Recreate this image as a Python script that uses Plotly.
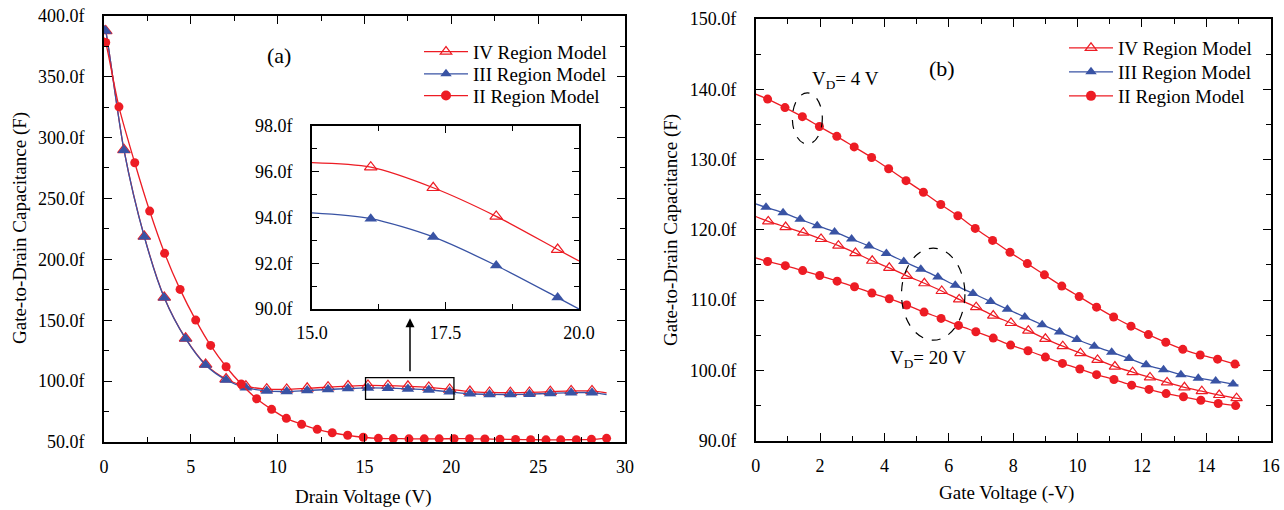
import plotly.graph_objects as go

RED = "#ED1C24"
BLUE = "#3953A4"
FONT = "Liberation Serif"

# ---------------- Panel (a): Drain voltage sweep ----------------
a_circ_x = [0.1, 0.86, 1.77, 2.63, 3.49, 4.38, 5.28, 6.14, 7.03, 7.9, 8.79, 9.65, 10.5, 11.38,
            12.28, 13.14, 14.03, 14.93, 15.8, 16.66, 17.56, 18.44, 19.3, 20.16, 21.05, 21.93,
            22.8, 23.7, 24.57, 25.45, 26.3, 27.2, 28.07, 28.94]
a_ii_y = [378, 325.2, 279.3, 239.6, 204.9, 175.3, 150.1, 129.3, 111.8, 97.6, 85.5, 76.8, 69.4,
          64.5, 60.4, 57.6, 55.5, 53.9, 53.0, 52.8, 52.6, 52.6, 52.6, 52.7, 52.7, 52.5, 52.3,
          52.1, 51.9, 51.8, 51.8, 51.9, 52.2, 53.0]
a_ii_start = (0.0, 382.0)

a_tri_x = [0.1, 1.15, 2.32, 3.47, 4.7, 5.85, 7.03, 8.17, 9.37, 10.52, 11.7, 12.9, 14.05, 15.2,
           16.35, 17.5, 18.7, 19.9, 21.07, 22.2, 23.4, 24.5, 25.7, 26.9, 28.1]
a_iii_y = [387.5, 289.6, 218.5, 168.4, 134.8, 113.2, 100.9, 94.6, 91.9, 91.5, 92.3, 93.1, 93.9,
           94.4, 94.2, 93.6, 92.7, 91.2, 89.6, 89.1, 89.0, 89.3, 89.9, 90.5, 90.5]
a_iii_ends = [(0.0, 392.0), (28.94, 89.0)]
a_iv_y = [387.5, 289.9, 218.8, 168.7, 135.1, 113.7, 101.7, 95.8, 93.4, 93.2, 94.1, 95.0, 95.9,
          96.5, 96.3, 95.7, 94.8, 93.2, 91.4, 90.7, 90.5, 90.7, 91.3, 91.9, 91.9]
a_iv_ends = [(0.0, 392.0), (28.94, 90.3)]

# Inset (zoom of 15-20 V)
in_x = [16.1, 17.27, 18.45, 19.6]
in_iv_y = [96.2, 95.3, 94.05, 92.6]
in_iv_ends = [(15.0, 96.4), (20.0, 92.1)]
in_iii_y = [93.95, 93.15, 91.9, 90.5]
in_iii_ends = [(15.0, 94.2), (20.0, 90.0)]

# ---------------- Panel (b): Gate voltage sweep ----------------
b_ii4_x = [0.37, 0.91, 1.45, 1.98, 2.52, 3.06, 3.6, 4.13, 4.67, 5.21, 5.75, 6.28, 6.82, 7.36,
           7.9, 8.44, 8.97, 9.51, 10.05, 10.59, 11.12, 11.66, 12.2, 12.74, 13.27, 13.81, 14.35, 14.89]
b_ii4_y = [138.6, 137.4, 136.1, 134.7, 133.3, 131.8, 130.3, 128.7, 127.0, 125.35, 123.6, 122.0,
           120.2, 118.5, 116.8, 115.2, 113.6, 112.0, 110.5, 109.0, 107.6, 106.3, 105.1, 104.0,
           103.0, 102.2, 101.6, 100.9]
b_ii4_ends = [(0.0, 139.3), (15.05, 100.7)]

b_iii_x = [0.32, 0.85, 1.38, 1.91, 2.45, 2.98, 3.52, 4.06, 4.6, 5.13, 5.66, 6.2, 6.75, 7.3,
           7.82, 8.36, 8.9, 9.44, 9.98, 10.52, 11.06, 11.6, 12.13, 12.67, 13.21, 13.75, 14.29, 14.83]
b_iii_y = [123.2, 122.45, 121.5, 120.6, 119.7, 118.7, 117.7, 116.65, 115.5, 114.4, 113.3, 112.1,
           110.95, 109.8, 108.7, 107.6, 106.5, 105.45, 104.4, 103.45, 102.6, 101.7, 100.8, 100.1,
           99.4, 98.9, 98.5, 98.05]
b_iii_ends = [(0.0, 123.7), (15.0, 97.9)]

b_iv_x = [0.39, 0.93, 1.48, 2.03, 2.57, 3.1, 3.62, 4.15, 4.7, 5.24, 5.78, 6.32, 6.85, 7.38,
          7.93, 8.47, 9.0, 9.54, 10.09, 10.62, 11.16, 11.71, 12.25, 12.78, 13.32, 13.86, 14.4, 14.94]
b_iv_y = [121.2, 120.4, 119.6, 118.7, 117.75, 116.7, 115.6, 114.6, 113.45, 112.4, 111.3, 110.1,
          109.0, 107.8, 106.75, 105.65, 104.5, 103.45, 102.45, 101.5, 100.55, 99.75, 99.0, 98.3,
          97.6, 97.05, 96.5, 96.05]
b_iv_ends = [(0.0, 121.9), (15.1, 95.9)]

b_ii20_x = [0.37, 0.92, 1.46, 1.99, 2.53, 3.07, 3.61, 4.15, 4.69, 5.23, 5.76, 6.3, 6.84, 7.38,
            7.92, 8.46, 9.0, 9.53, 10.07, 10.59, 11.13, 11.68, 12.22, 12.75, 13.29, 13.83, 14.37, 14.91]
b_ii20_y = [115.5, 114.9, 114.2, 113.5, 112.7, 111.9, 111.0, 110.2, 109.3, 108.3, 107.4, 106.4,
            105.5, 104.6, 103.6, 102.8, 101.9, 101.0, 100.2, 99.4, 98.7, 97.9, 97.3, 96.7, 96.25,
            95.75, 95.3, 95.0]
b_ii20_ends = [(0.0, 116.0), (15.05, 94.9)]

legend_names = ["IV Region Model", "III Region Model", "II Region Model"]

fig = go.Figure()

def with_ends(xs, ys, ends):
    lx, ly = list(xs), list(ys)
    if len(ends) >= 1:
        lx = [ends[0][0]] + lx
        ly = [ends[0][1]] + ly
    if len(ends) == 2:
        lx = lx + [ends[1][0]]
        ly = ly + [ends[1][1]]
    return lx, ly

def add_series(xs, ys, ends, color, symbol, xa, ya, msize=9):
    lx, ly = with_ends(xs, ys, ends)
    fig.add_trace(go.Scatter(x=lx, y=ly, mode="lines", xaxis=xa, yaxis=ya,
                             line=dict(color=color, width=1.3, shape="spline", smoothing=0.8),
                             showlegend=False, hoverinfo="skip"))
    open_sym = symbol.endswith("-open")
    fig.add_trace(go.Scatter(x=xs, y=ys, mode="markers", xaxis=xa, yaxis=ya,
                             marker=dict(color=color, symbol=symbol, size=msize,
                                         line=dict(color=color, width=1.2 if open_sym else 0)),
                             showlegend=False))

def add_legend(name, color, symbol, legend):
    open_sym = symbol.endswith("-open")
    fig.add_trace(go.Scatter(x=[None], y=[None], mode="lines+markers", name=name, legend=legend,
                             line=dict(color=color, width=1.3),
                             marker=dict(color=color, symbol=symbol, size=10,
                                         line=dict(color=color, width=1.2 if open_sym else 0))))

symbols = ["triangle-up-open", "triangle-up", "circle"]
colors = [RED, BLUE, RED]

# Panel (a)
add_series(a_tri_x, a_iv_y, a_iv_ends, RED, "triangle-up-open", "x", "y", 11)
add_series(a_tri_x, a_iii_y, a_iii_ends, BLUE, "triangle-up", "x", "y", 11)
add_series(a_circ_x, a_ii_y, [a_ii_start], RED, "circle", "x", "y", 9)

# Inset
add_series(in_x, in_iv_y, in_iv_ends, RED, "triangle-up-open", "x3", "y3", 11)
add_series(in_x, in_iii_y, in_iii_ends, BLUE, "triangle-up", "x3", "y3", 11)

# Panel (b)
add_series(b_ii4_x, b_ii4_y, b_ii4_ends, RED, "circle", "x2", "y2", 9)
add_series(b_iv_x, b_iv_y, b_iv_ends, RED, "triangle-up-open", "x2", "y2", 10)
add_series(b_iii_x, b_iii_y, b_iii_ends, BLUE, "triangle-up", "x2", "y2", 10)
add_series(b_ii20_x, b_ii20_y, b_ii20_ends, RED, "circle", "x2", "y2", 9)

# one single-item legend per row so that row spacing can match the original
legend_ids = ["legend", "legend2", "legend3", "legend4", "legend5", "legend6"]
for i in range(3):
    add_legend(legend_names[i], colors[i], symbols[i], legend_ids[i])
for i in range(3):
    add_legend(legend_names[i], colors[i], symbols[i], legend_ids[3 + i])

W, H = 1284, 510

def ax(domain, rng, dtick, mdtick, anchor, fmt=None, suffix="", size=18, standoff=8, ticklen=8):
    d = dict(domain=domain, range=rng, anchor=anchor, dtick=dtick, tick0=rng[0],
             automargin=False,
             showline=True, linecolor="black", linewidth=1.6, mirror="ticks",
             ticks="inside", ticklen=ticklen, tickwidth=1.3, tickcolor="black",
             showgrid=False, zeroline=False, ticksuffix=suffix,
             tickfont=dict(family=FONT, size=size, color="black"),
             ticklabelstandoff=standoff,
             minor=dict(ticks="inside", dtick=mdtick, ticklen=5, tickwidth=1.1,
                        tickcolor="black", showgrid=False))
    if fmt:
        d["tickformat"] = fmt
    return d

px = lambda p: p / W
py = lambda p: 1 - p / H

leg_rows_a = [51.7, 74.0, 95.7]
leg_rows_b = [48.0, 72.0, 96.0]
legend_layout = {}
for i, yy in enumerate(leg_rows_a):
    legend_layout[legend_ids[i]] = dict(x=px(419), y=py(yy), xanchor="left", yanchor="middle",
                                        bgcolor="rgba(0,0,0,0)", borderwidth=0,
                                        font=dict(family=FONT, size=19), itemwidth=44)
for i, yy in enumerate(leg_rows_b):
    legend_layout[legend_ids[3 + i]] = dict(x=px(1064), y=py(yy), xanchor="left", yanchor="middle",
                                            bgcolor="rgba(0,0,0,0)", borderwidth=0,
                                            font=dict(family=FONT, size=19), itemwidth=44)

fig.update_layout(
    width=W, height=H, margin=dict(l=0, r=0, t=0, b=0),
    paper_bgcolor="white", plot_bgcolor="white",
    font=dict(family=FONT, color="black"),
    xaxis=ax([px(104), px(625)], [0, 30], 5, 2.5, "y", standoff=8),
    yaxis=ax([py(442), py(15.7)], [50, 400], 50, 25, "x", ".1f", "f", standoff=14),
    xaxis2=ax([px(755.7), px(1270.7)], [0, 16], 2, 1, "y2", standoff=8),
    yaxis2=ax([py(440.7), py(19)], [90, 150], 10, 5, "x2", ".1f", "f", standoff=14),
    xaxis3=ax([px(312), px(579)], [15, 20], 2.5, 1.25, "y3", ".1f", standoff=7, ticklen=7),
    yaxis3=ax([py(309), py(126)], [90, 98], 2, 1, "x3", ".1f", "f", standoff=14, ticklen=7),
    **legend_layout,
)

shapes = [
    dict(type="rect", xref="x", yref="y", x0=15.06, x1=20.15, y0=85.0, y1=102.8,
         line=dict(color="black", width=1.3)),
    dict(type="circle", xref="x2", yref="y2", x0=1.14, x1=2.07, y0=132.2, y1=139.5,
         line=dict(color="black", width=1.2, dash="dash")),
    dict(type="circle", xref="x2", yref="y2", x0=4.53, x1=6.5, y0=104.3, y1=117.4,
         line=dict(color="black", width=1.2, dash="dash")),
]
fig.update_layout(shapes=shapes)

annotations = [
    dict(text="(a)", xref="x", yref="y", x=10.07, y=367.7, showarrow=False,
         xanchor="center", yanchor="middle", font=dict(family=FONT, size=22)),
    dict(text="(b)", xref="x2", yref="y2", x=5.79, y=143.0, showarrow=False,
         xanchor="center", yanchor="middle", font=dict(family=FONT, size=22)),
    dict(text="V<sub>D</sub>= 4 V", xref="x2", yref="y2", x=2.8, y=141.3, showarrow=False,
         xanchor="center", yanchor="middle", font=dict(family=FONT, size=19)),
    dict(text="V<sub>D</sub>= 20 V", xref="x2", yref="y2", x=5.35, y=101.6, showarrow=False,
         xanchor="center", yanchor="middle", font=dict(family=FONT, size=19)),
    dict(text="", xref="x", yref="y", x=17.62, y=151.6, ax=17.62, ay=106.9,
         axref="x", ayref="y", showarrow=True, arrowhead=2, arrowsize=1.2, arrowwidth=1.5,
         arrowcolor="black"),
    dict(text="Gate-to-Drain Capacitance (F)", xref="paper", yref="paper", x=px(20), y=py(228),
         xanchor="center", yanchor="middle",
         textangle=-90, showarrow=False, font=dict(family=FONT, size=19)),
    dict(text="Gate-to-Drain Capacitance (F)", xref="paper", yref="paper", x=px(671), y=py(230),
         xanchor="center", yanchor="middle",
         textangle=-90, showarrow=False, font=dict(family=FONT, size=19)),
    dict(text="Drain Voltage (V)", xref="paper", yref="paper", x=px(364), y=py(497),
         xanchor="center", yanchor="middle", showarrow=False, font=dict(family=FONT, size=19)),
    dict(text="Gate Voltage (-V)", xref="paper", yref="paper", x=px(1006), y=py(493),
         xanchor="center", yanchor="middle", showarrow=False, font=dict(family=FONT, size=19)),
]
fig.update_layout(annotations=annotations)

fig.write_html("out.html", config={"displayModeBar": False},
               post_script="document.body.style.margin='0px';document.body.style.overflow='hidden';")
